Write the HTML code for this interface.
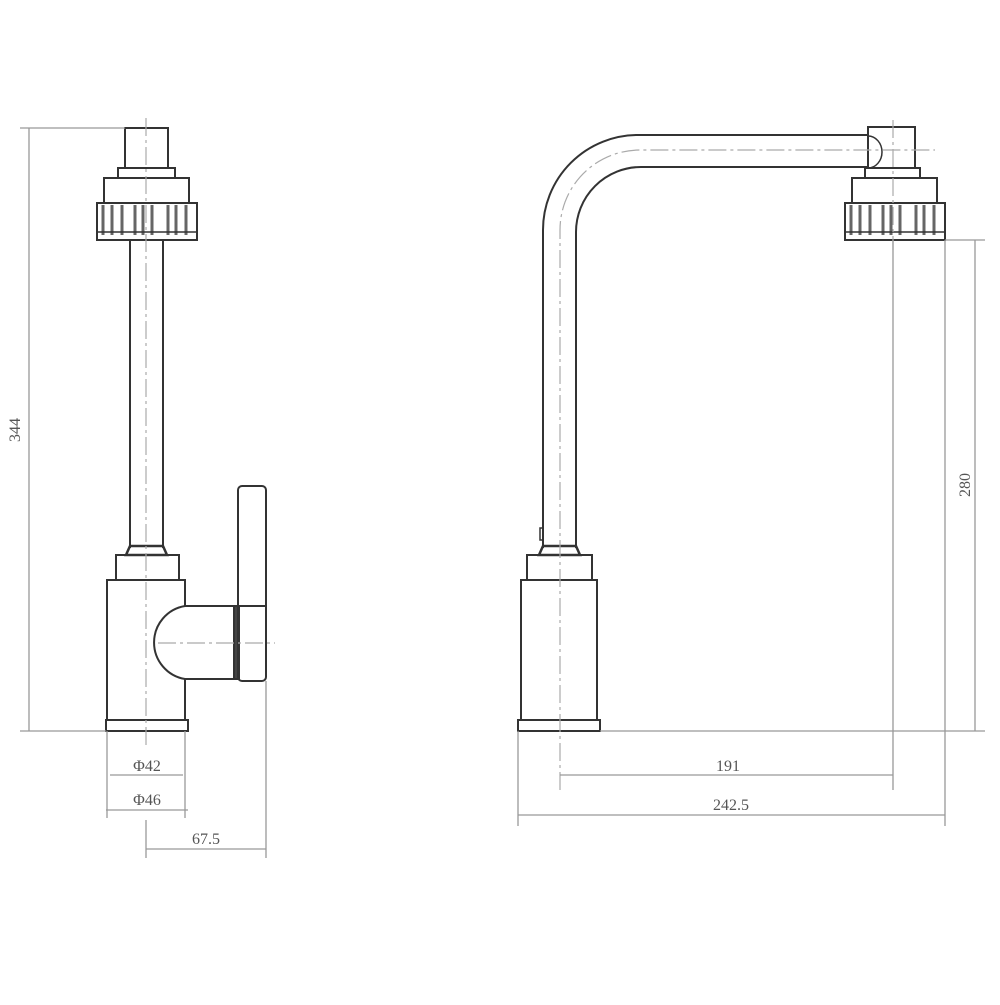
<!DOCTYPE html>
<html><head><meta charset="utf-8"><style>html,body{margin:0;padding:0;background:#fff}</style></head>
<body>
<svg width="1000" height="1000" viewBox="0 0 1000 1000" xmlns="http://www.w3.org/2000/svg">
<g fill="none" stroke="#333" stroke-width="2">
<!-- LEFT VIEW -->
<rect x="125" y="128" width="43" height="40"/>
<rect x="118" y="168" width="57" height="10"/>
<rect x="104" y="178" width="85" height="25"/>
<rect x="97" y="203" width="100" height="37"/>
<path d="M103 205v30M112 205v30M122 205v30M135 205v30M143 205v30M152 205v30M168 205v30M176 205v30M186 205v30" stroke-width="3" stroke="#666"/>
<line x1="98" y1="232" x2="196" y2="232" stroke-width="1.5"/>
<line x1="130" y1="240" x2="130" y2="548"/>
<line x1="163" y1="240" x2="163" y2="548"/>
<path d="M130 546h33l4 9h-41z" stroke-width="2.5"/>
<rect x="116" y="555" width="63" height="25"/>
<path d="M185 606V580H107V720H185V679"/>
<path d="M185 606h51v73h-51a37 37 0 0 1 0-73z"/>
<rect x="234" y="606" width="5" height="73" fill="#444"/>
<rect x="238" y="486" width="28" height="195" rx="4"/>
<line x1="238" y1="606" x2="266" y2="606"/>
<rect x="106" y="720" width="82" height="11"/>
<!-- RIGHT VIEW -->
<path d="M543 548V230a95 95 0 0 1 95-95H868"/>
<path d="M576 548V232a65 65 0 0 1 65-65H868"/>
<rect x="868" y="127" width="47" height="41"/>
<path d="M868 136a14 16 0 0 1 0 32" stroke-width="1.5"/>
<rect x="865" y="168" width="55" height="10"/>
<rect x="852" y="178" width="85" height="25"/>
<rect x="845" y="203" width="100" height="37"/>
<path d="M851 205v30M860 205v30M870 205v30M883 205v30M891 205v30M900 205v30M916 205v30M924 205v30M934 205v30" stroke-width="3" stroke="#666"/>
<line x1="846" y1="232" x2="944" y2="232" stroke-width="1.5"/>
<path d="M543 546h33l4 9h-41z" stroke-width="2.5"/>
<path d="M543 528h-3v12h3" stroke-width="1.5"/>
<rect x="527" y="555" width="65" height="25"/>
<rect x="521" y="580" width="76" height="140"/>
<rect x="518" y="720" width="82" height="11"/>
</g>
<!-- centerlines -->
<g stroke="#aaa" stroke-width="1.2" stroke-dasharray="18,4,3,4" fill="none">
<line x1="146" y1="118" x2="146" y2="745"/>
<line x1="158" y1="643" x2="275" y2="643"/>
<path d="M560 790V230a80 80 0 0 1 80-80H935"/>
<line x1="893" y1="120" x2="893" y2="250"/>
</g>
<!-- dimension lines -->
<g stroke="#999" stroke-width="1.3" fill="none">
<line x1="20" y1="128" x2="125" y2="128"/>
<line x1="20" y1="731" x2="106" y2="731"/>
<line x1="29" y1="128" x2="29" y2="731"/>
<line x1="107" y1="731" x2="107" y2="818"/>
<line x1="185" y1="731" x2="185" y2="818"/>
<line x1="146" y1="820" x2="146" y2="858"/>
<line x1="266" y1="681" x2="266" y2="858"/>
<line x1="110" y1="775" x2="183" y2="775"/>
<line x1="106" y1="810" x2="188" y2="810"/>
<line x1="146" y1="849" x2="266" y2="849"/>
<line x1="945" y1="240" x2="985" y2="240"/>
<line x1="600" y1="731" x2="985" y2="731"/>
<line x1="975" y1="240" x2="975" y2="731"/>
<line x1="518" y1="731" x2="518" y2="826"/>
<line x1="893" y1="240" x2="893" y2="790"/>
<line x1="945" y1="240" x2="945" y2="826"/>
<line x1="560" y1="775" x2="893" y2="775"/>
<line x1="518" y1="815" x2="945" y2="815"/>
</g>
<g font-family="Liberation Serif, serif" font-size="16" fill="#555" text-anchor="middle">
<text x="147" y="771">Φ42</text>
<text x="147" y="805">Φ46</text>
<text x="206" y="844">67.5</text>
<text x="728" y="771">191</text>
<text x="731" y="810">242.5</text>
<text transform="translate(20,430) rotate(-90)">344</text>
<text transform="translate(970,485) rotate(-90)">280</text>
</g>
</svg>
</body></html>
